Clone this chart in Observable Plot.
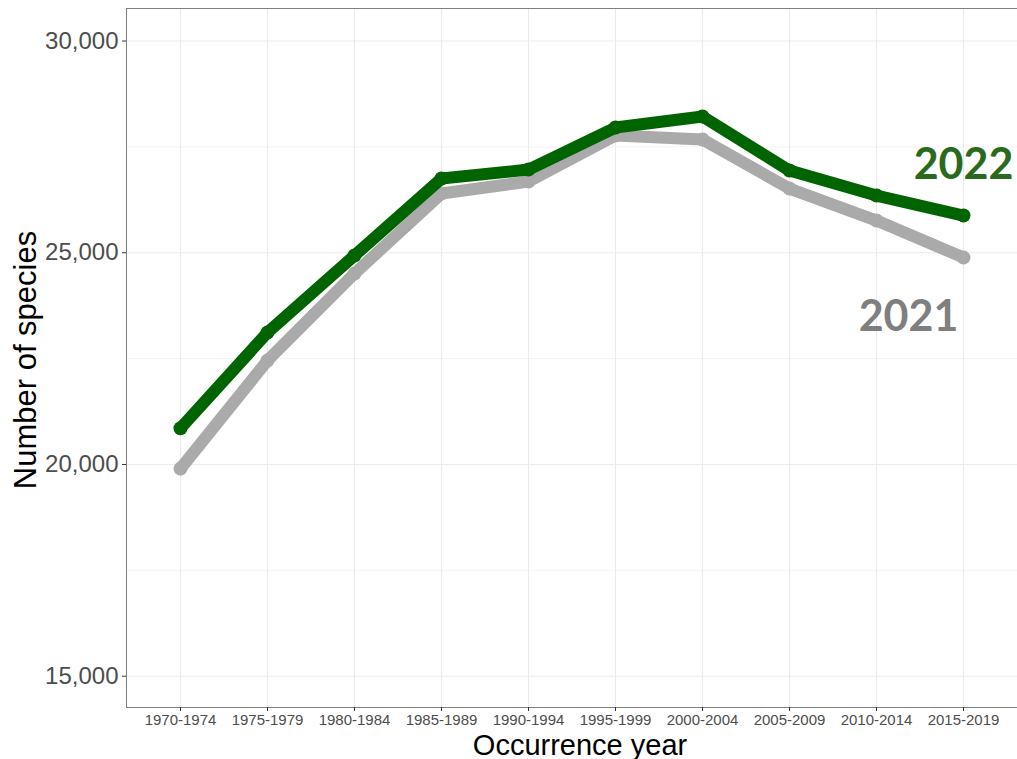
<!DOCTYPE html>
<html>
<head>
<meta charset="utf-8">
<script src="https://cdn.jsdelivr.net/npm/d3@7"></script>
<script src="https://cdn.jsdelivr.net/npm/@observablehq/plot@0.6"></script>
<style>
  html, body { margin: 0; padding: 0; background: #fff; }
  #chart svg { font-family: 'Liberation Sans', Arial, sans-serif !important; }
</style>
</head>
<body>
<div id="chart"></div>
<script>
const periods = ["1970-1974","1975-1979","1980-1984","1985-1989","1990-1994","1995-1999","2000-2004","2005-2009","2010-2014","2015-2019"];
const species2022 = [20854, 23115, 24934, 26752, 26965, 27957, 28217, 26941, 26351, 25878];
const species2021 = [19902, 22453, 24508, 26398, 26681, 27768, 27673, 26516, 25760, 24886];
const seriesNames = ["2022", "2021"];
const yMajorTicks = [15000, 20000, 25000, 30000];
const yMinorTicks = [17500, 22500, 27500];
const xTitle = "Occurrence year";
const yTitle = "Number of species";

const d22 = periods.map((p, i) => ({period: p, value: species2022[i]}));
const d21 = periods.map((p, i) => ({period: p, value: species2021[i]}));
const last22 = [{period: periods[periods.length - 1], value: species2022[species2022.length - 1], label: seriesNames[0]}];
const last21 = [{period: periods[periods.length - 1], value: species2021[species2021.length - 1], label: seriesNames[1]}];

const green = "#006400";
const gray = "#aaaaaa";
const sans = "'Liberation Sans', Arial, sans-serif";
const labelFont = "Lato, 'Open Sans', sans-serif";

const chart = Plot.plot({
  width: 1017,
  height: 759,
  marginLeft: 126,
  marginRight: 0,
  marginTop: 8,
  marginBottom: 52,
  style: {fontFamily: sans, background: "#fff", overflow: "visible"},
  x: {type: "point", domain: periods, padding: 0.6, axis: null},
  y: {domain: [14261, 30768], axis: null},
  marks: [
    Plot.gridY(yMinorTicks, {stroke: "#ebebeb", strokeOpacity: 1, strokeWidth: 0.6}),
    Plot.gridY(yMajorTicks, {stroke: "#ebebeb", strokeOpacity: 1, strokeWidth: 1.1}),
    Plot.gridX(periods, {stroke: "#ebebeb", strokeOpacity: 1, strokeWidth: 1.1}),
    Plot.frame({stroke: "#808080", strokeWidth: 1}),
    Plot.axisY(yMajorTicks, {tickSize: 4, tickPadding: 4, fontSize: 24, fontFamily: sans, fill: "#4d4d4d", stroke: "#333", tickFormat: d3.format(","), label: null}),
    Plot.axisX(periods, {tickSize: 4, tickPadding: 3, fontSize: 15, fontFamily: sans, fill: "#4d4d4d", stroke: "#333", label: null}),
    Plot.text([yTitle], {frameAnchor: "left", dx: -91, dy: 2, rotate: -90, fontSize: 31, fontFamily: sans, fill: "#000", textAnchor: "middle", lineAnchor: "bottom"}),
    Plot.text([xTitle], {frameAnchor: "bottom", dx: 8, dy: 47, fontSize: 29, fontFamily: sans, fill: "#000", textAnchor: "middle", lineAnchor: "bottom"}),
    Plot.line(d21, {x: "period", y: "value", stroke: gray, strokeWidth: 12, strokeLinecap: "round", strokeLinejoin: "round"}),
    Plot.dot(d21, {x: "period", y: "value", fill: gray, r: 7}),
    Plot.line(d22, {x: "period", y: "value", stroke: green, strokeWidth: 12, strokeLinecap: "round", strokeLinejoin: "round"}),
    Plot.dot(d22, {x: "period", y: "value", fill: green, r: 7}),
    Plot.text(last22, {x: "period", y: "value", text: "label", dy: -37, textAnchor: "middle", lineAnchor: "bottom", fontSize: 43, fontWeight: "bold", fontFamily: labelFont, fill: "#2a6a1c"}),
    Plot.text(last21, {x: "period", y: "value", text: "label", dx: -55, dy: 73, textAnchor: "middle", lineAnchor: "bottom", fontSize: 43, fontWeight: "bold", fontFamily: labelFont, fill: "#7f7f7f"})
  ]
});
document.getElementById("chart").appendChild(chart);
</script>
</body>
</html>
